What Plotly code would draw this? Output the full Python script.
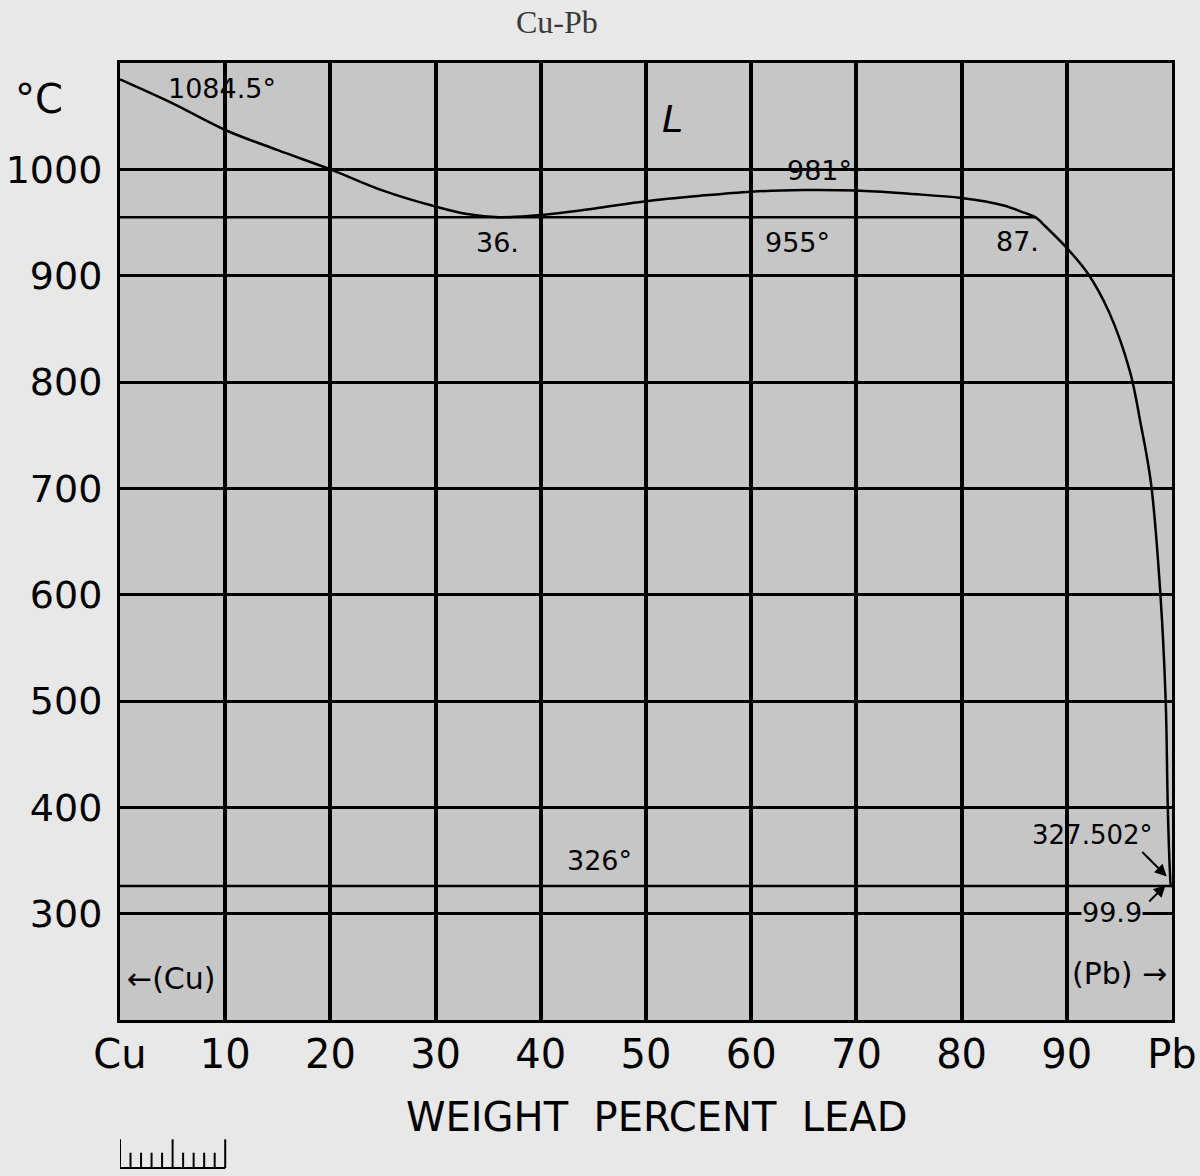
import plotly.graph_objects as go

# liquidus / miscibility gap
wt_pb = [0, 5, 10, 15, 20, 25, 30, 33, 36, 40, 45, 50, 55, 60, 65, 70, 75, 80,
         84, 86, 87, 88, 90, 92, 94, 96, 97, 98, 98.9, 99.4, 99.6, 99.8, 99.9, 100]
temp_c = [1084.5, 1062, 1037, 1018, 1000, 980, 965, 958, 955, 957, 963, 970, 975, 979,
          980.5, 980, 977, 973, 966, 959, 955, 946, 926, 902, 866, 810, 762, 705,
          600, 500, 400, 340, 326, 327.5]

monotectic_x = [0, 87]
monotectic_t = [955, 955]
eutectic_x = [0, 100]
eutectic_t = [326, 326]

x_ticks = [0, 10, 20, 30, 40, 50, 60, 70, 80, 90, 100]
x_labels = ["Cu", "10", "20", "30", "40", "50", "60", "70", "80", "90", "Pb"]
y_ticks = [300, 400, 500, 600, 700, 800, 900, 1000]

FONT = "DejaVu Sans"
BG = "#c6c6c6"

fig = go.Figure()
line = dict(color="black", width=2.5)
fig.add_trace(go.Scatter(x=wt_pb, y=temp_c, mode="lines", line=line, line_shape="spline"))
fig.add_trace(go.Scatter(x=monotectic_x, y=monotectic_t, mode="lines", line=line))
fig.add_trace(go.Scatter(x=eutectic_x, y=eutectic_t, mode="lines", line=line))

labels = [
    (9.7, 1076, "1084.5°", 27, None),
    (66.5, 999, "981°", 27, None),
    (35.9, 931, "36.", 27, None),
    (64.4, 931, "955°", 27, None),
    (85.3, 932, "87.", 27, None),
    (45.6, 350, "326°", 27, None),
    (92.4, 374, "327.502°", 26, None),
    (94.3, 301, "99.9", 27, BG),
    (4.9, 239, "←(Cu)", 30, None),
    (95.0, 244, "(Pb) →", 30, None),
]
for x, y, t, s, bg in labels:
    fig.add_annotation(x=x, y=y, text=t, showarrow=False,
                       font=dict(family=FONT, size=s, color="black"),
                       bgcolor=bg, borderpad=0)

fig.add_annotation(x=52.5, y=1047, text="<i>L</i>", showarrow=False,
                   font=dict(family=FONT, size=38, color="black"))
# little arrows to the Pb corner
fig.add_annotation(x=99.5, y=335, ax=-26, ay=-26, text="", showarrow=True,
                   arrowhead=2, arrowsize=1.2, arrowwidth=2, arrowcolor="black")
fig.add_annotation(x=99.4, y=327, ax=-18, ay=18, text="", showarrow=True,
                   arrowhead=2, arrowsize=1.2, arrowwidth=2, arrowcolor="black")

paper_txt = [
    (-0.077, 0.962, "°C", FONT, 40, "black"),
    (0.415, 1.043, "Cu-Pb", "Liberation Serif", 32, "#3a3a3a"),
    (0.51, -0.101, "WEIGHT  PERCENT  LEAD", FONT, 40, "black"),
]
for x, y, t, fam, s, c in paper_txt:
    fig.add_annotation(x=x, y=y, xref="paper", yref="paper", text=t, showarrow=False,
                       xanchor="center", yanchor="middle",
                       font=dict(family=fam, size=s, color=c))

# scale ruler under the plot
fig.add_shape(type="line", xref="x", yref="paper", x0=0, x1=10, y0=-0.1547, y1=-0.1547,
              line=dict(color="black", width=2))
for i in range(11):
    h = 0.03 if i in (0, 5, 10) else 0.016
    fig.add_shape(type="line", xref="x", yref="paper", x0=i, x1=i, y0=-0.1547, y1=-0.1547 + h,
                  line=dict(color="black", width=2))

fig.update_xaxes(range=[0, 100], tickvals=x_ticks, ticktext=x_labels,
                 showgrid=True, gridcolor="black", gridwidth=3.5,
                 showline=True, linecolor="black", linewidth=3, mirror=True,
                 ticks="", zeroline=False, ticklabelstandoff=-3, automargin=False,
                 tickfont=dict(family=FONT, size=40, color="black"))
fig.update_yaxes(range=[200, 1100], tickvals=y_ticks,
                 showgrid=True, gridcolor="black", gridwidth=3,
                 showline=True, linecolor="black", linewidth=3, mirror=True,
                 ticks="", zeroline=False, ticklabelstandoff=7, automargin=False,
                 tickfont=dict(family=FONT, size=38, color="black"))

fig.update_layout(width=1200, height=1176, showlegend=False,
                  margin=dict(l=120, r=28, t=63, b=156),
                  plot_bgcolor=BG, paper_bgcolor="#e8e8e8")

fig.write_html("out.html", config={"displayModeBar": False},
               post_script="document.body.style.margin='0';")
